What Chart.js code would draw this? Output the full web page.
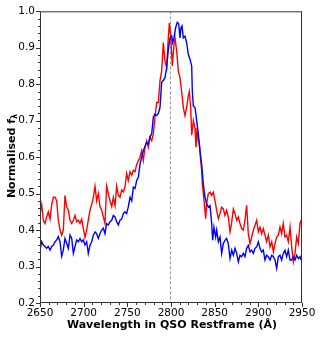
<!DOCTYPE html>
<html>
<head>
<meta charset="utf-8">
<script src="https://cdn.jsdelivr.net/npm/chart.js@4.4.0/dist/chart.umd.min.js"></script>
<style>
  html, body { margin: 0; padding: 0; background: #fff; }
  #wrap { width: 320px; height: 340px; position: relative; }
</style>
</head>
<body>
<div id="wrap"><canvas id="specChart"></canvas></div>
<script>
// spectre rouge
var redWave = [2650.0, 2651.9, 2653.8, 2655.7, 2657.6, 2659.5, 2661.5, 2663.4, 2665.3, 2667.2, 2669.1, 2671.0, 2672.9, 2674.8, 2676.7, 2678.6, 2680.5, 2682.4, 2684.4, 2686.3, 2688.2, 2690.1, 2692.0, 2693.9, 2695.8, 2697.7, 2699.6, 2701.5, 2703.4, 2705.3, 2707.3, 2709.2, 2711.1, 2713.0, 2714.9, 2716.8, 2718.7, 2720.6, 2722.5, 2724.4, 2726.3, 2728.2, 2730.2, 2732.1, 2734.0, 2735.9, 2737.8, 2739.7, 2741.6, 2743.5, 2745.4, 2747.3, 2749.2, 2751.1, 2753.1, 2755.0, 2756.9, 2758.8, 2760.7, 2764.5, 2766.4, 2768.3, 2770.2, 2772.1, 2774.0, 2775.9, 2777.9, 2779.8, 2781.7, 2783.6, 2785.5, 2787.4, 2789.3, 2791.2, 2793.1, 2795.0, 2796.9, 2798.1, 2799.6, 2801.5, 2803.4, 2804.6, 2806.5, 2808.4, 2810.3, 2812.2, 2814.1, 2816.0, 2817.9, 2819.8, 2821.0, 2822.5, 2823.7, 2825.6, 2827.5, 2828.6, 2830.1, 2832.4, 2834.0, 2835.1, 2835.9, 2838.2, 2839.7, 2840.8, 2842.7, 2844.7, 2846.6, 2848.5, 2850.4, 2852.3, 2854.2, 2856.1, 2858.0, 2859.9, 2861.8, 2863.7, 2865.6, 2867.6, 2869.5, 2871.4, 2873.3, 2875.2, 2877.1, 2879.0, 2880.9, 2882.8, 2884.7, 2886.6, 2888.5, 2890.5, 2892.4, 2894.3, 2896.2, 2898.1, 2900.0, 2901.9, 2903.8, 2905.7, 2907.6, 2909.5, 2911.4, 2913.4, 2915.3, 2917.2, 2919.1, 2921.0, 2922.9, 2924.8, 2926.7, 2928.6, 2930.5, 2932.4, 2934.3, 2936.3, 2938.2, 2940.1, 2942.0, 2943.9, 2945.8, 2947.7, 2948.9];
var redFlux = [0.445, 0.47, 0.427, 0.418, 0.436, 0.45, 0.43, 0.47, 0.49, 0.49, 0.48, 0.427, 0.40, 0.386, 0.40, 0.495, 0.464, 0.455, 0.427, 0.418, 0.427, 0.44, 0.423, 0.427, 0.418, 0.43, 0.405, 0.38, 0.40, 0.427, 0.455, 0.47, 0.49, 0.52, 0.48, 0.50, 0.464, 0.455, 0.436, 0.418, 0.52, 0.50, 0.48, 0.464, 0.49, 0.467, 0.52, 0.495, 0.49, 0.51, 0.505, 0.518, 0.555, 0.536, 0.56, 0.55, 0.564, 0.56, 0.58, 0.60, 0.618, 0.591, 0.627, 0.645, 0.627, 0.655, 0.645, 0.664, 0.71, 0.75, 0.75, 0.81, 0.836, 0.914, 0.864, 0.845, 0.927, 0.968, 0.936, 0.85, 0.909, 0.927, 0.89, 0.836, 0.818, 0.78, 0.736, 0.714, 0.736, 0.768, 0.78, 0.736, 0.66, 0.70, 0.68, 0.627, 0.664, 0.636, 0.59, 0.564, 0.527, 0.472, 0.431, 0.472, 0.50, 0.504, 0.495, 0.504, 0.48, 0.454, 0.431, 0.445, 0.463, 0.458, 0.44, 0.454, 0.436, 0.395, 0.422, 0.458, 0.445, 0.427, 0.436, 0.418, 0.404, 0.40, 0.427, 0.468, 0.39, 0.363, 0.381, 0.40, 0.413, 0.427, 0.395, 0.408, 0.39, 0.404, 0.386, 0.368, 0.386, 0.354, 0.368, 0.34, 0.363, 0.381, 0.386, 0.408, 0.39, 0.418, 0.381, 0.386, 0.368, 0.408, 0.354, 0.313, 0.336, 0.381, 0.363, 0.418, 0.427];

// spectre bleu
var blueWave = [2650.0, 2651.9, 2653.8, 2655.7, 2657.6, 2659.5, 2661.5, 2663.4, 2665.3, 2667.2, 2669.1, 2671.0, 2672.9, 2674.8, 2676.7, 2678.6, 2680.5, 2682.4, 2684.4, 2686.3, 2688.2, 2690.1, 2692.0, 2693.9, 2695.8, 2697.7, 2699.6, 2701.5, 2703.4, 2705.3, 2707.3, 2709.2, 2711.1, 2713.0, 2714.9, 2716.8, 2718.7, 2720.6, 2722.5, 2724.4, 2726.3, 2728.2, 2730.2, 2732.1, 2734.0, 2735.9, 2737.8, 2739.7, 2741.6, 2743.5, 2745.4, 2747.3, 2749.2, 2751.1, 2753.1, 2755.0, 2756.9, 2758.8, 2760.7, 2762.6, 2764.5, 2768.3, 2772.1, 2774.0, 2775.9, 2777.9, 2779.8, 2781.7, 2783.6, 2785.5, 2787.4, 2789.3, 2791.2, 2793.1, 2795.0, 2796.9, 2798.9, 2800.8, 2801.9, 2803.4, 2805.3, 2807.2, 2808.8, 2810.3, 2811.4, 2812.6, 2814.1, 2816.0, 2817.9, 2819.8, 2821.8, 2823.7, 2824.4, 2825.6, 2827.5, 2829.4, 2831.3, 2833.2, 2835.1, 2837.0, 2838.9, 2840.8, 2842.7, 2844.7, 2846.6, 2847.7, 2849.2, 2851.1, 2852.3, 2854.2, 2856.1, 2858.0, 2859.9, 2861.8, 2863.7, 2865.6, 2867.6, 2869.5, 2871.4, 2873.3, 2875.2, 2877.1, 2879.0, 2880.9, 2882.8, 2884.7, 2886.6, 2888.5, 2890.5, 2892.4, 2894.3, 2896.2, 2898.1, 2900.0, 2901.9, 2903.8, 2905.7, 2907.6, 2909.5, 2911.4, 2913.4, 2915.3, 2917.2, 2919.1, 2921.0, 2922.9, 2924.8, 2926.7, 2928.6, 2930.5, 2932.4, 2934.3, 2936.3, 2938.2, 2940.1, 2942.0, 2943.9, 2945.8, 2947.7, 2948.9];
var blueFlux = [0.345, 0.368, 0.359, 0.355, 0.35, 0.355, 0.345, 0.355, 0.359, 0.368, 0.373, 0.382, 0.368, 0.328, 0.345, 0.377, 0.364, 0.35, 0.386, 0.377, 0.336, 0.355, 0.373, 0.368, 0.377, 0.368, 0.373, 0.359, 0.368, 0.336, 0.359, 0.368, 0.386, 0.395, 0.39, 0.377, 0.39, 0.40, 0.405, 0.39, 0.418, 0.414, 0.423, 0.427, 0.44, 0.436, 0.423, 0.414, 0.427, 0.43, 0.445, 0.45, 0.445, 0.464, 0.49, 0.48, 0.518, 0.514, 0.536, 0.545, 0.58, 0.618, 0.64, 0.636, 0.655, 0.664, 0.71, 0.718, 0.714, 0.72, 0.736, 0.805, 0.81, 0.818, 0.845, 0.895, 0.927, 0.932, 0.914, 0.927, 0.955, 0.97, 0.966, 0.927, 0.955, 0.96, 0.927, 0.932, 0.914, 0.882, 0.868, 0.85, 0.78, 0.74, 0.736, 0.70, 0.664, 0.618, 0.58, 0.527, 0.49, 0.472, 0.463, 0.467, 0.418, 0.372, 0.408, 0.381, 0.40, 0.368, 0.381, 0.336, 0.363, 0.372, 0.377, 0.363, 0.322, 0.345, 0.331, 0.35, 0.336, 0.313, 0.331, 0.327, 0.336, 0.327, 0.35, 0.358, 0.34, 0.345, 0.336, 0.35, 0.354, 0.368, 0.35, 0.34, 0.345, 0.318, 0.331, 0.327, 0.318, 0.331, 0.327, 0.318, 0.295, 0.327, 0.331, 0.318, 0.336, 0.345, 0.327, 0.345, 0.318, 0.318, 0.327, 0.318, 0.331, 0.322, 0.327, 0.318];

// raie Mg II (trait pointillé)
var lineWave = [2798.75];

var xLimits = [2650, 2950];
var yLimits = [0.2, 1.0];

var toPoints = function (waves, fluxes) {
    var pts = [];
    for (var i = 0; i < waves.length; i++) {
        pts.push({ x: waves[i], y: fluxes[i] });
    }
    return pts;
};

var FONT = "'DejaVu Sans', sans-serif";
var AXIS_COLOR = '#333';

// ticks majeurs / mineurs vers l'extérieur, cadre et titres
var axesPlugin = {
    id: 'axesPlugin',
    beforeDatasetsDraw: function (chart) {
        var ctx = chart.ctx;
        var xs = chart.scales.x;
        var area = chart.chartArea;
        ctx.save();
        ctx.strokeStyle = '#9a9a9a';
        ctx.lineWidth = 1;
        ctx.setLineDash([3, 2]);
        lineWave.forEach(function (w) {
            var px = Math.round(xs.getPixelForValue(w)) + 0.5;
            ctx.beginPath();
            ctx.moveTo(px, area.top);
            ctx.lineTo(px, area.bottom);
            ctx.stroke();
        });
        ctx.restore();
    },
    afterDraw: function (chart) {
        var ctx = chart.ctx;
        var xs = chart.scales.x;
        var ys = chart.scales.y;
        var area = chart.chartArea;
        ctx.save();
        ctx.strokeStyle = AXIS_COLOR;
        ctx.lineWidth = 1;
        ctx.strokeRect(area.left + 0.5, area.top + 0.5, area.right - area.left - 1, area.bottom - area.top - 1);

        // ticks x
        for (var w = xLimits[0]; w <= xLimits[1] + 0.01; w += 10) {
            var px = Math.round(xs.getPixelForValue(w)) + 0.5;
            var len = (Math.round(w) % 50 === 0) ? 4 : 2;
            ctx.beginPath();
            ctx.moveTo(px, area.bottom);
            ctx.lineTo(px, area.bottom + len);
            ctx.stroke();
        }
        // ticks y
        for (var k = 0; k <= 40; k++) {
            var v = yLimits[0] + k * 0.02;
            var py = Math.round(ys.getPixelForValue(v)) + 0.5;
            var ylen = (k % 5 === 0) ? 4 : 2;
            ctx.beginPath();
            ctx.moveTo(area.left, py);
            ctx.lineTo(area.left - ylen, py);
            ctx.stroke();
        }

        // titre axe x
        ctx.fillStyle = '#000';
        ctx.font = 'bold 11px ' + FONT;
        ctx.textAlign = 'center';
        ctx.textBaseline = 'middle';
        ctx.fillText('Wavelength in QSO Restframe (\u00C5)', (area.left + area.right) / 2 + 1, 325);

        // titre axe y avec indice lambda
        ctx.translate(12, 156);
        ctx.rotate(-Math.PI / 2);
        var main = 'Normalised f';
        ctx.font = 'bold 11px ' + FONT;
        var wMain = ctx.measureText(main).width;
        ctx.font = 'bold 8px ' + FONT;
        var wSub = ctx.measureText('\u03BB').width;
        var start = -(wMain + wSub) / 2;
        ctx.textAlign = 'left';
        ctx.font = 'bold 11px ' + FONT;
        ctx.fillText(main, start, 0);
        ctx.font = 'bold 8px ' + FONT;
        ctx.fillText('\u03BB', start + wMain, 3);
        ctx.restore();
    }
};

var ctx = document.getElementById('specChart');
var specChart = new Chart(ctx, {
    type: 'line',
    data: {
        datasets: [
            {
                label: 'blue',
                data: toPoints(blueWave, blueFlux),
                borderColor: '#0000ff',
                borderWidth: 1.4,
                pointRadius: 0,
                tension: 0,
                fill: false
            },
            {
                label: 'red',
                data: toPoints(redWave, redFlux),
                borderColor: '#ff0000',
                borderWidth: 1.4,
                pointRadius: 0,
                tension: 0,
                fill: false
            }
        ]
    },
    options: {
        responsive: true,
        maintainAspectRatio: false,
        animation: false,
        events: [],
        layout: { padding: { top: 10, right: 18, left: 0, bottom: 0 } },
        plugins: {
            legend: { display: false },
            tooltip: { enabled: false }
        },
        scales: {
            x: {
                type: 'linear',
                min: xLimits[0],
                max: xLimits[1],
                afterFit: function (scale) { scale.height = 37; },
                grid: { display: false, drawTicks: false },
                border: { display: false },
                ticks: {
                    stepSize: 50,
                    padding: 4,
                    maxRotation: 0,
                    autoSkip: false,
                    color: '#000',
                    font: { family: FONT, size: 10.5 },
                    callback: function (v) { return String(v); }
                }
            },
            y: {
                min: yLimits[0],
                max: yLimits[1],
                afterFit: function (scale) { scale.width = 40; },
                grid: { display: false, drawTicks: false },
                border: { display: false },
                ticks: {
                    stepSize: 0.1,
                    padding: 5,
                    color: '#000',
                    font: { family: FONT, size: 10.5 },
                    callback: function (v) { return v.toFixed(1); }
                }
            }
        }
    },
    plugins: [axesPlugin]
});
</script>
</body>
</html>
